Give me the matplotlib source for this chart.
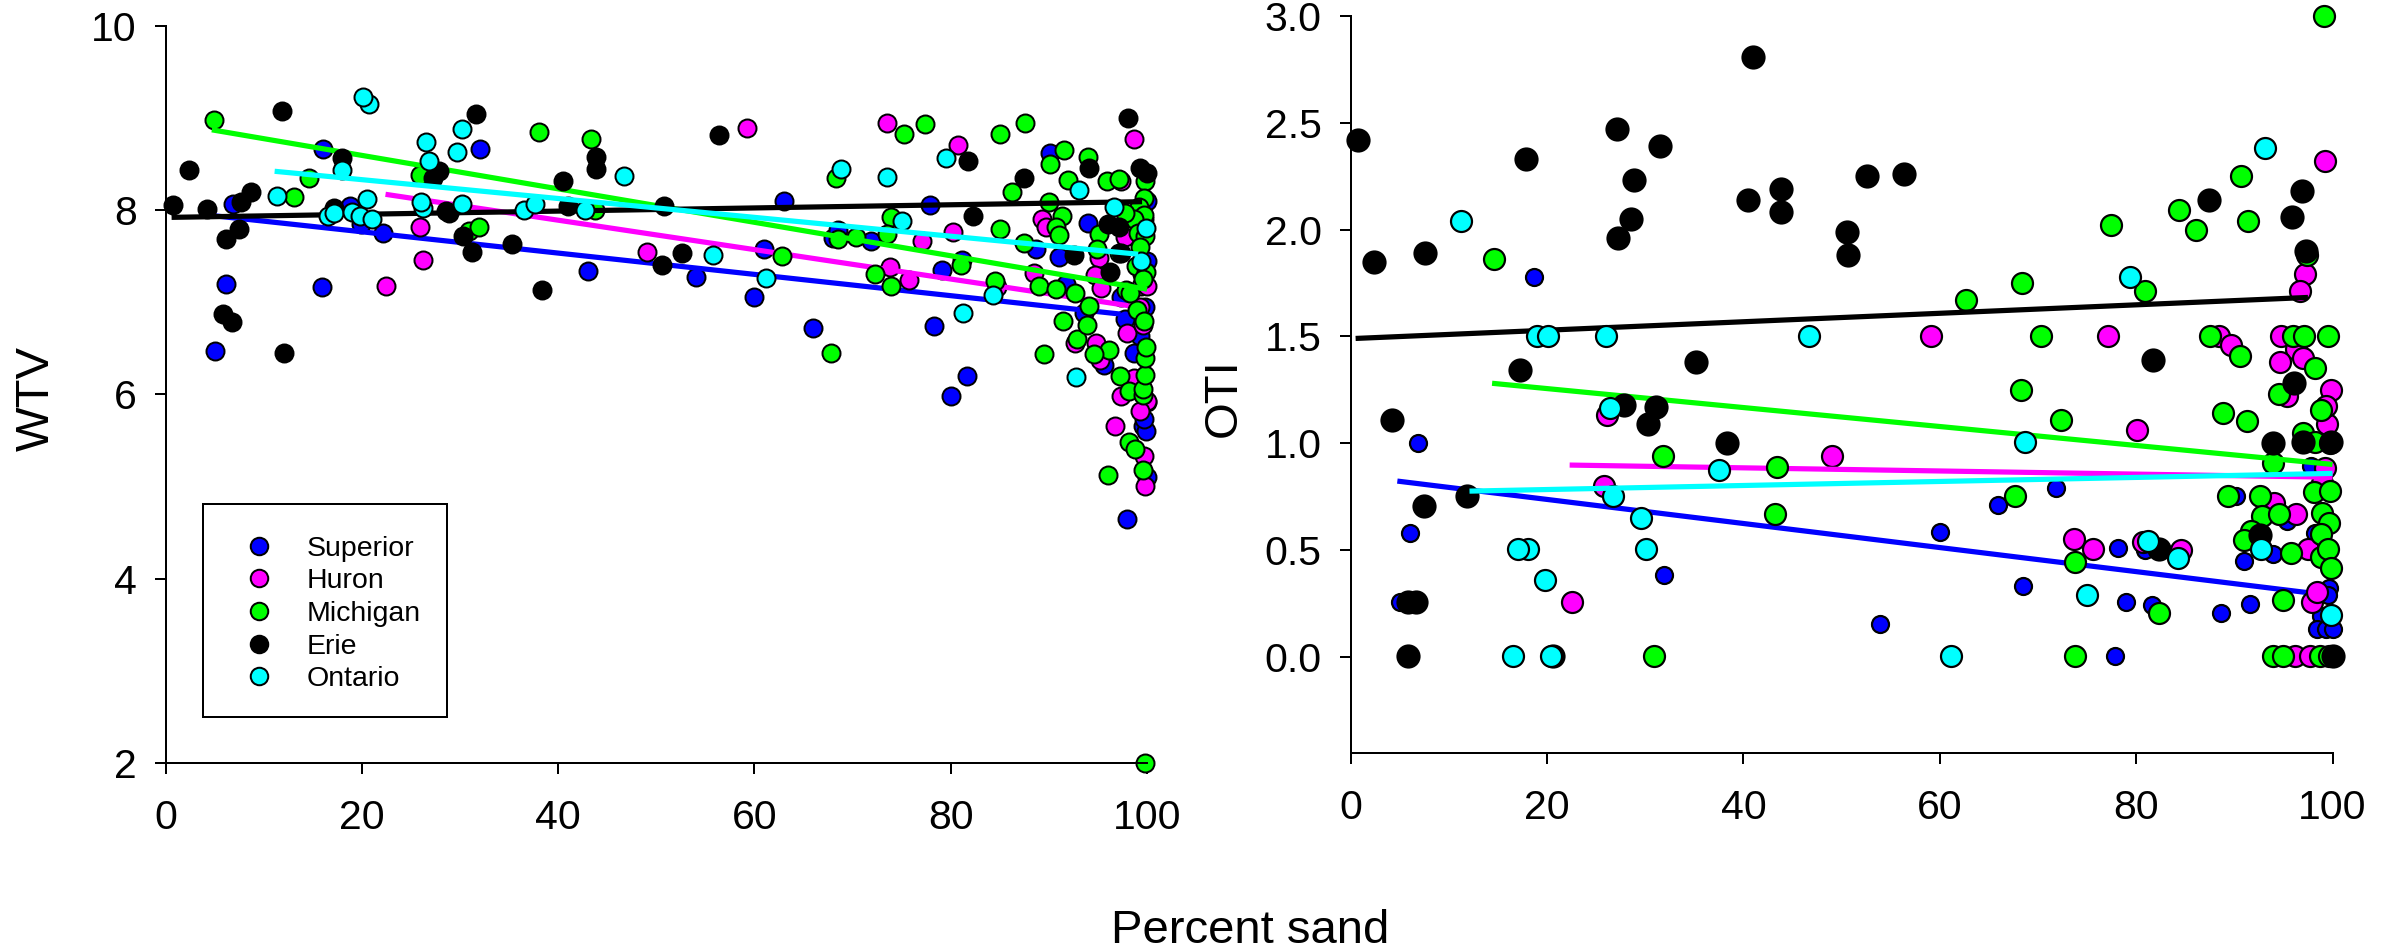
import matplotlib
matplotlib.use("Agg")
import matplotlib.pyplot as plt
from matplotlib.lines import Line2D
from matplotlib.patches import Rectangle

plt.rcParams['font.family'] = ['Liberation Sans', 'DejaVu Sans']

lakes = ["Superior", "Huron", "Michigan", "Erie", "Ontario"]
colors = ["#0000ff", "#ff00ff", "#00ff00", "#000000", "#00ffff"]

# WTV panel: (percent sand, WTV)
wtv_superior = [(6.9,8.07),(16,8.66),(6.1,7.2),(15.9,7.16),(5,6.47),(18.8,8.04),(19.9,7.85),(22.1,7.75),(32,8.66),(43,7.34),
    (54,7.27),(60,7.06),(63,8.1),(61,7.58),(66,6.72),(68,7.7),(68.5,7.78),(71.9,7.66),(77.9,8.05),(79.1,7.35),(81.1,7.46),(78.3,6.74),
    (81.7,6.2),(80,5.98),(88.7,7.58),(91,7.49),(90.1,8.62),(91.7,7.2),(94,7.86),(93.6,6.88),(97.3,7.06),(97.8,6.82),(95.6,6.32),(98.7,6.45),
    (99.3,6.63),(99.6,5.66),(99.9,5.6),(99.7,5.73),(100,5.1),(98,4.65),(100,5.92),(99.7,7.9),(100,8.1),(99.5,7.3),(100,7.45),(99.8,6.95)]
wtv_huron = [(22.5,7.18),(25.9,7.81),(26.2,7.46),(49,7.54),(59.2,8.89),(73.5,8.94),(80.7,8.71),(80.2,7.76),(77.1,7.66),(73.8,7.38),(75.7,7.24),
    (88.5,7.32),(84.7,7.16),(89.3,7.9),(89.7,7.82),(95.1,7.48),(94.7,7.29),(95.3,7.15),(97.3,8.31),(98.7,8.77),(99.4,7.17),(100,7.18),(98,6.66),
    (99.6,6.75),(99.3,6.95),(92.7,6.56),(94.8,6.56),(95.2,6.37),(98.7,6.18),(97.4,5.98),(100,5.93),(99.3,5.82),(96.7,5.65),(99.7,5.33),(99.8,5.0),(97.8,7.71)]
wtv_michigan = [(4.95,8.98),(13.1,8.14),(14.6,8.35),(25.9,8.38),(30.9,7.77),(31.9,7.82),(38,8.85),(43.3,8.77),(43.7,8.0),(68.3,8.35),(70.3,7.71),(68.5,7.68),
    (62.8,7.5),(72.3,7.31),(73.9,7.17),(73.9,7.92),(73.5,7.74),(75.2,8.83),(77.4,8.93),(85,8.83),(87.6,8.94),(91.5,8.65),(90.1,8.5),(94,8.57),(91.9,8.33),
    (95.9,8.31),(97.1,8.34),(99.8,8.31),(86.2,8.2),(90,8.09),(91.3,7.94),(90.7,7.81),(91,7.73),(85,7.79),(87.5,7.64),(81,7.4),(84.5,7.23),(89,7.18),(90.7,7.14),
    (92.7,7.1),(95.1,7.74),(94.9,7.58),(97.1,7.53),(97.9,7.13),(98.3,7.1),(99.7,8.13),(99.2,8.03),(99.7,7.95),(98.7,7.9),(99.1,7.75),(99.8,7.72),(99.3,7.6),
    (98.9,7.39),(99.9,7.33),(99.6,7.25),(97.8,7.97),(98.2,5.48),(98.8,5.41),(99.6,5.18),(96,5.12),(99.8,2.0),(97.2,6.2),(98.2,6.04),(99.6,5.99),(99.6,6.06),
    (99.8,6.21),(99.8,6.39),(99.9,6.51),(96.1,6.48),(94.6,6.44),(92.9,6.6),(89.5,6.44),(91.4,6.79),(93.9,6.75),(94.1,6.96),(99,6.91),(99.7,6.8),(67.8,6.45)]
wtv_erie = [(0.75,8.05),(2.4,8.43),(4.2,8.01),(6.1,7.69),(7.5,7.79),(6.8,6.78),(5.8,6.87),(7.65,8.09),(8.7,8.19),(11.9,9.07),(12.1,6.45),(18,8.56),(17.2,8.02),
    (27.2,8.35),(27.8,8.42),(31.6,9.04),(28.9,7.97),(28.6,7.99),(30.3,7.72),(31.2,7.54),(35.3,7.63),(38.3,7.13),(40.5,8.31),(41,8.04),(43.8,8.58),(43.9,8.44),
    (50.8,8.04),(50.6,7.40),(52.6,7.53),(56.4,8.81),(82.3,7.94),(87.5,8.35),(81.8,8.53),(92.6,7.51),(94.1,8.46),(96.2,7.33),(96,7.85),(97.1,7.81),(97.4,7.53),
    (98.1,9.0),(99.3,8.46),(100,8.40)]
wtv_ontario = [(11.3,8.15),(20.7,9.15),(20.1,9.23),(18,8.43),(26.5,8.74),(30.2,8.88),(29.7,8.63),(26.8,8.53),(26.2,8.02),(26,8.09),(20.5,8.12),(16.5,7.94),
    (17.1,7.97),(19,7.98),(19.8,7.93),(21,7.9),(30.2,8.07),(36.5,8.0),(37.6,8.07),(42.7,8.0),(46.7,8.37),(55.8,7.51),(61.2,7.26),(68.8,8.45),(73.5,8.36),(75,7.88),
    (79.5,8.56),(84.3,7.08),(93.1,8.22),(96.6,8.03),(99.9,7.8),(99.4,7.45),(92.8,6.19),(81.3,6.88)]

# OTI panel: (percent sand, OTI)
oti_superior = [(18.7,1.78),(6.9,1.0),(6,0.58),(5,0.256),(31.9,0.38),(53.9,0.152),(60,0.585),(65.9,0.711),(71.8,0.79),(68.5,0.331),(78.2,0.507),(80.9,0.5),(79,0.256),
    (81.6,0.243),(77.8,0.005),(88.6,0.205),(91.6,0.248),(91,0.45),(93.9,0.48),(95.4,0.635),(90.2,0.753),(97.8,0.892),(99.6,0.323),(99.5,0.289),(98.8,0.19),(98.4,0.131),
    (99.3,0.128),(100,0.131),(98.2,0.58)]
oti_huron = [(99.2,2.32),(97.2,1.79),(96.7,1.71),(59.1,1.5),(77.1,1.5),(88.4,1.5),(89.7,1.46),(94.8,1.5),(96.3,1.44),(97,1.40),(94.7,1.38),(99.8,1.25),(95.4,1.22),
    (26.1,1.13),(25.8,0.8),(22.5,0.256),(49,0.94),(73.7,0.552),(75.6,0.505),(80.7,0.537),(84.6,0.5),(80.1,1.06),(94,0.718),(96.3,0.669),(99.4,1.087),(97.5,0.505),
    (97.9,0.256),(98.4,0.304),(96.2,0.005),(97.7,0.005),(99.2,0.884),(98.9,0.814),(99.3,1.173)]
oti_michigan = [(14.6,1.86),(99.1,3.0),(90.7,2.25),(84.4,2.09),(86.1,2.0),(91.4,2.04),(77.4,2.02),(80.9,1.71),(68.4,1.75),(62.7,1.67),(70.3,1.5),(87.5,1.5),(90.6,1.41),
    (96,1.5),(97.1,1.5),(99.5,1.5),(98.2,1.35),(68.3,1.25),(94.6,1.23),(97.4,1.88),(31.8,0.94),(43.4,0.89),(43.2,0.67),(30.9,0.005),(88.8,1.14),(91.3,1.104),(72.3,1.106),
    (67.7,0.753),(73.8,0.442),(95,0.264),(82.3,0.205),(73.8,0.005),(89.4,0.753),(92.6,0.753),(92.8,0.658),(94.6,0.668),(91.7,0.588),(91,0.548),(93.9,0.908),(97,1.048),
    (98.2,1.004),(99.7,0.998),(98.1,0.771),(99.7,0.777),(98.9,0.672),(99.6,0.627),(98.8,0.574),(95.8,0.487),(98.8,0.468),(99.5,0.505),(99.8,0.415),(98.8,1.154),
    (93.9,0.005),(95,0.005),(98.7,0.005),(99.6,0.005)]
oti_erie = [(0.7,2.42),(2.4,1.85),(7.6,1.89),(17.9,2.33),(27.1,2.47),(31.5,2.39),(28.9,2.23),(28.6,2.05),(27.2,1.96),(41,2.81),(40.5,2.14),(43.8,2.19),(43.8,2.08),
    (50.5,1.99),(50.7,1.88),(17.2,1.34),(35.2,1.38),(52.6,2.25),(56.4,2.26),(81.7,1.39),(87.4,2.14),(96.9,2.18),(95.9,2.06),(97.3,1.90),(96.1,1.28),(4.2,1.107),(7.5,0.705),
    (11.8,0.753),(5.8,0.256),(6.7,0.256),(5.8,0.005),(27.8,1.18),(31.1,1.17),(30.3,1.09),(38.3,1.0),(20.6,0.005),(93.9,1.0),(97,1.004),(99.8,1.004),(92.6,0.568),(82.3,0.505),
    (100,0.005)]
oti_ontario = [(11.2,2.04),(19,1.5),(20.1,1.5),(26,1.5),(46.7,1.5),(93.1,2.38),(79.4,1.78),(26.4,1.165),(26.7,0.753),(37.5,0.873),(29.6,0.65),(30.1,0.505),(18.1,0.505),(17,0.505),
    (19.8,0.357),(16.5,0.005),(20.4,0.005),(68.7,1.003),(81.2,0.541),(84.3,0.46),(75,0.29),(61.1,0.005),(92.7,0.502),(99.8,0.194)]

# Trend lines: ((x0, y0), (x1, y1))
wtv_lines = [((4.7,7.94),(97.3,6.87)), ((22.4,8.17),(98.2,6.96)), ((4.7,8.87),(100,7.14)), ((0.6,7.92),(99.5,8.09)), ((11.1,8.42),(99.1,7.52))]
oti_lines = [((4.75,0.822),(97.4,0.30)), ((22.3,0.897),(100,0.84)), ((14.4,1.28),(100,0.90)), ((0.5,1.49),(97.5,1.682)), ((12.1,0.775),(100,0.858))]

wtv_points = [wtv_superior, wtv_huron, wtv_michigan, wtv_erie, wtv_ontario]
oti_points = [oti_superior, oti_huron, oti_michigan, oti_erie, oti_ontario]

W, H = 2399, 952
fig = plt.figure(figsize=(W/100, H/100), dpi=100, facecolor='white')
def axes_px(l, r, t, b):
    return fig.add_axes([l/W, 1-b/H, (r-l)/W, (b-t)/H])
ax1 = axes_px(165.7, 1147, 25.7, 762.8)
ax2 = axes_px(1350.7, 2332.5, 16, 752.7)

PX = 0.72
def panel(ax, points, lines, sizes, mew):
    for pts, ln, c, d in zip(points, lines, colors, sizes):
        xs = [p[0] for p in pts]; ys = [p[1] for p in pts]
        ax.plot(xs, ys, ls='none', marker='o', ms=d*PX, mfc=c, mec='black', mew=mew*PX, clip_on=False)
        ax.plot([ln[0][0], ln[1][0]], [ln[0][1], ln[1][1]], color=c, lw=5.2*PX, solid_capstyle='butt', clip_on=False)
    ax.set_xlim(0, 100)
    for s in ('top', 'right'):
        ax.spines[s].set_visible(False)
    for s in ('left', 'bottom'):
        ax.spines[s].set_linewidth(2*PX)
    ax.set_xticks(range(0, 101, 20))
    ax.tick_params(axis='both', length=11.5*PX, width=2*PX, labelsize=29.5, direction='out')
    ax.tick_params(axis='y', pad=12.5)
    ax.tick_params(axis='x', pad=18)
    ax.patch.set_visible(False)

panel(ax1, wtv_points, wtv_lines, [18, 18, 18, 18, 18], 2.0)
ax1.set_ylim(2, 10)
ax1.set_yticks([2, 4, 6, 8, 10])

panel(ax2, oti_points, oti_lines, [17, 21, 21, 22, 21], 2.2)
ax2.set_ylim(-0.45, 3.0)
ax2.set_yticks([0, 0.5, 1, 1.5, 2, 2.5, 3])
ax2.set_yticklabels(["0.0", "0.5", "1.0", "1.5", "2.0", "2.5", "3.0"])

handles = [Line2D([], [], ls='none', marker='o', ms=17.5*PX, mfc=c, mec='black', mew=2*PX) for c in colors]
ax_w, ax_h = 1147-165.7, 762.8-25.7
x0 = (202.9-165.7)/ax_w
y0 = (762.8-716.7)/ax_h
ax1.add_patch(Rectangle((202.9/W, 1-716.7/H), (447.3-202.9)/W, (716.7-504.3)/H, transform=fig.transFigure,
                        facecolor='none', edgecolor='black', linewidth=2*PX, clip_on=False))
leg = ax1.legend(handles, lakes, loc='lower left', bbox_to_anchor=(x0, y0-3/ax_h), borderaxespad=0, fontsize=20.5,
                 frameon=False, borderpad=0.96, handlelength=2.0, handletextpad=0.68, labelspacing=0.235)

fig.text(1250/W, 1-931/H, "Percent sand", fontsize=34, ha='center', va='center')
fig.text(37/W, 1-398/H, "WTV", fontsize=34, rotation=90, ha='center', va='center')
fig.text(1224/W, 1-398/H, "OTI", fontsize=34, rotation=90, ha='center', va='center')

fig.savefig("out.png", dpi=100)
